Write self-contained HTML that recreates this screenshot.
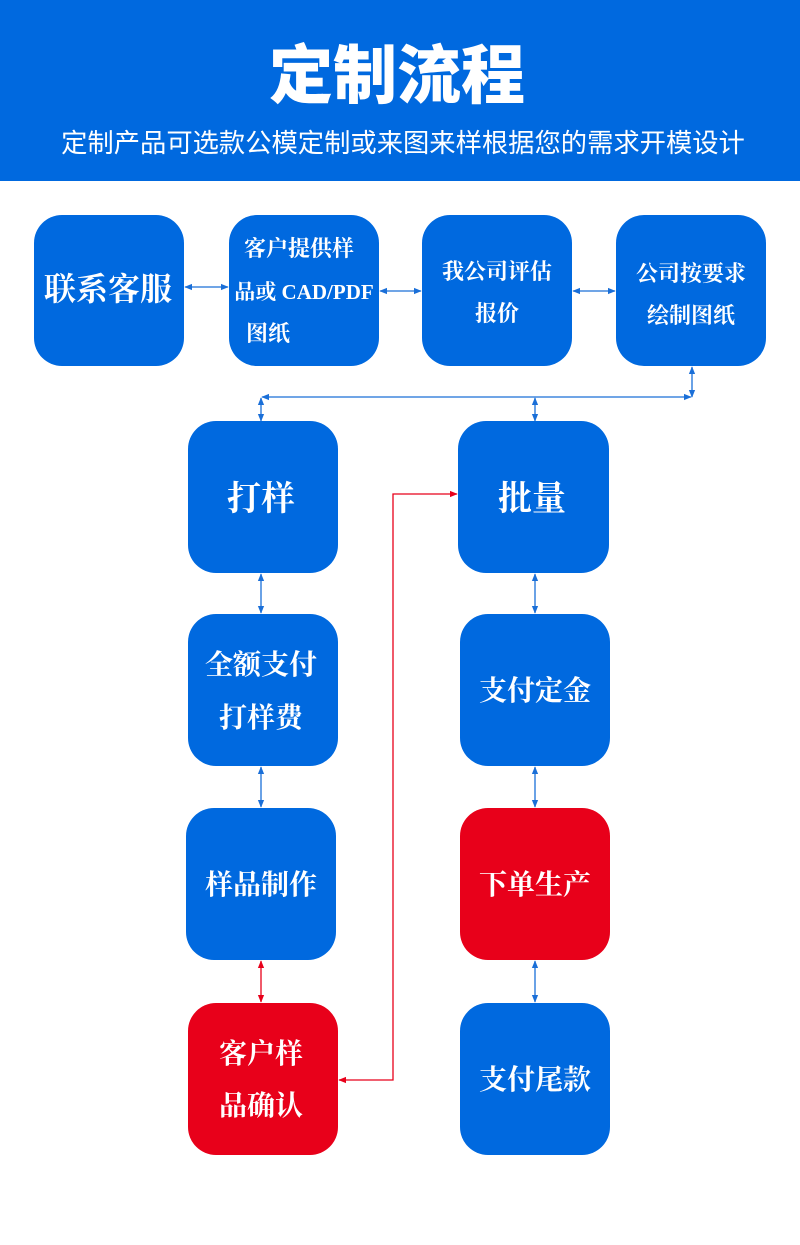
<!DOCTYPE html>
<html><head><meta charset="utf-8"><style>
body{margin:0;width:800px;height:1240px;background:#fff;overflow:hidden}
</style></head><body>
<svg width="800" height="1240" xmlns="http://www.w3.org/2000/svg">
<defs>
<marker id="ab" viewBox="0 0 10 10" refX="9" refY="5" markerWidth="6" markerHeight="6" orient="auto-start-reverse"><path d="M0,1 L10,5 L0,9 z" fill="#1a6fd8"/></marker>
<marker id="ar" viewBox="0 0 10 10" refX="9" refY="5" markerWidth="6" markerHeight="6" orient="auto-start-reverse"><path d="M0,1 L10,5 L0,9 z" fill="#e8001a"/></marker>
</defs>
<rect x="0" y="0" width="800" height="181" fill="#0069df"/>
<text x="397" y="98" text-anchor="middle" fill="#fff" font-family="'Noto Sans CJK SC',sans-serif" font-weight="900" font-size="64">定制流程</text>
<text x="403" y="152" text-anchor="middle" fill="#fff" font-family="'Noto Sans CJK SC',sans-serif" font-size="26.3">定制产品可选款公模定制或来图来样根据您的需求开模设计</text>
<g fill="#0069df">
<rect x="34" y="215" width="150" height="151" rx="28"/>
<rect x="229" y="215" width="150" height="151" rx="28"/>
<rect x="422" y="215" width="150" height="151" rx="28"/>
<rect x="616" y="215" width="150" height="151" rx="28"/>
<rect x="188" y="421" width="150" height="152" rx="28"/>
<rect x="458" y="421" width="151" height="152" rx="28"/>
<rect x="188" y="614" width="150" height="152" rx="28"/>
<rect x="460" y="614" width="150" height="152" rx="28"/>
<rect x="186" y="808" width="150" height="152" rx="28"/>
<rect x="460" y="1003" width="150" height="152" rx="28"/>
</g>
<g fill="#e8001a">
<rect x="460" y="808" width="150" height="152" rx="28"/>
<rect x="188" y="1003" width="150" height="152" rx="28"/>
</g>
<g stroke="#1a6fd8" stroke-width="1.3" fill="none" marker-start="url(#ab)" marker-end="url(#ab)">
<line x1="185" y1="287" x2="228" y2="287"/>
<line x1="380" y1="291" x2="421" y2="291"/>
<line x1="573" y1="291" x2="615" y2="291"/>
<line x1="692" y1="367" x2="692" y2="397"/>
<line x1="262" y1="397" x2="691" y2="397"/>
<line x1="261" y1="398" x2="261" y2="421"/>
<line x1="535" y1="398" x2="535" y2="421"/>
<line x1="261" y1="574" x2="261" y2="613"/>
<line x1="535" y1="574" x2="535" y2="613"/>
<line x1="261" y1="767" x2="261" y2="807"/>
<line x1="535" y1="767" x2="535" y2="807"/>
<line x1="535" y1="961" x2="535" y2="1002"/>
</g>
<g stroke="#e8001a" stroke-width="1.3" fill="none">
<line x1="261" y1="961" x2="261" y2="1002" marker-start="url(#ar)" marker-end="url(#ar)"/>
<polyline points="339,1080 393,1080 393,494 457,494" marker-start="url(#ar)" marker-end="url(#ar)"/>
</g>
<g fill="#fff" font-family="'Liberation Serif','Noto Serif CJK SC',serif" font-weight="bold" text-anchor="middle">
<text x="108" y="300" font-size="32">联系客服</text>
<text x="299" y="256" font-size="22">客户提供样</text>
<text x="304" y="299" font-size="21">品或 CAD/PDF</text>
<text x="268" y="341" font-size="22">图纸</text>
<text x="497" y="279" font-size="22">我公司评估</text>
<text x="497" y="321" font-size="22">报价</text>
<text x="691" y="281" font-size="22">公司按要求</text>
<text x="691" y="323" font-size="22">绘制图纸</text>
<text x="261" y="510" font-size="34">打样</text>
<text x="532" y="510" font-size="34">批量</text>
<text x="261" y="674" font-size="28">全额支付</text>
<text x="261" y="727" font-size="28">打样费</text>
<text x="535" y="700" font-size="28">支付定金</text>
<text x="261" y="894" font-size="28">样品制作</text>
<text x="535" y="894" font-size="28">下单生产</text>
<text x="261" y="1063" font-size="28">客户样</text>
<text x="261" y="1115" font-size="28">品确认</text>
<text x="535" y="1089" font-size="28">支付尾款</text>
</g>
</svg>
</body></html>
